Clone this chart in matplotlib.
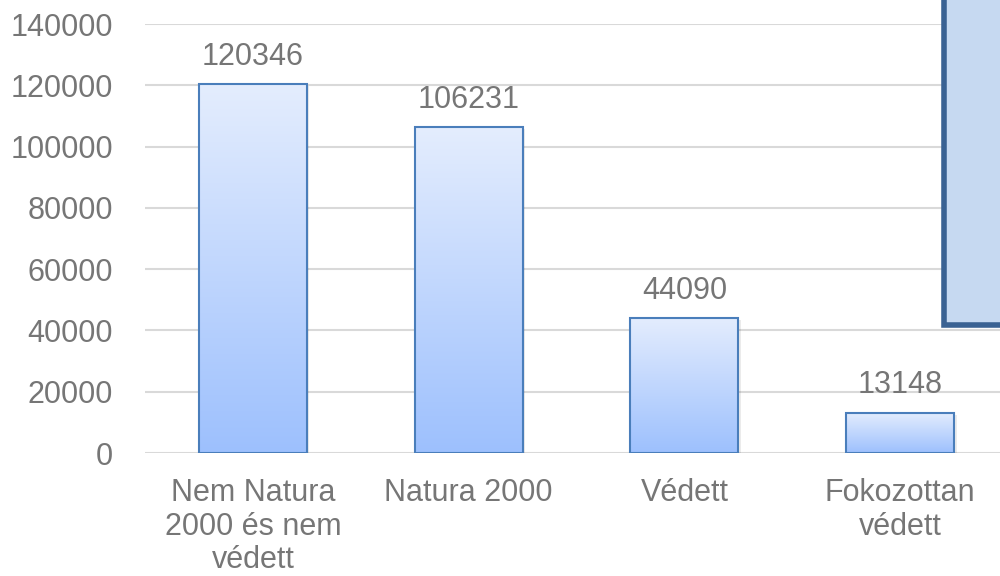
import numpy as np
import matplotlib.pyplot as plt
from matplotlib.colors import LinearSegmentedColormap
from matplotlib.patches import Rectangle

categories = ["Nem Natura\n2000 és nem\nvédett", "Natura 2000", "Védett", "Fokozottan\nvédett"]
values = [120346, 106231, 44090, 13148]
yticks = [0, 20000, 40000, 60000, 80000, 100000, 120000, 140000]

plt.rcParams['font.family'] = ['Liberation Sans', 'DejaVu Sans']
grey = '#767676'
fs = 22

fig = plt.figure(figsize=(10, 5.76), dpi=100)
ax = fig.add_axes([0.145, 0.2135, 0.863, 0.7448])

x = np.arange(len(values))
bars = ax.bar(x, values, width=0.5, facecolor='none', edgecolor='#4a7ebb', linewidth=1.5, zorder=3)

cmap = LinearSegmentedColormap.from_list('g', ['#9dc0fe', '#e4edfd'])
grad = np.linspace(0, 1, 256).reshape(-1, 1)
for b in bars:
    x0, w, h = b.get_x(), b.get_width(), b.get_height()
    # soft shadow
    ax.add_patch(Rectangle((x0 + 0.012, -600), w, h, facecolor='#000000', alpha=0.08, zorder=1, linewidth=0))
    im = ax.imshow(grad, cmap=cmap, origin='lower', aspect='auto', extent=(x0, x0 + w, 0, h), zorder=2)
    im.set_clip_path(b)

for xi, v in zip(x, values):
    ax.text(xi, v + 4000, str(v), ha='center', va='bottom', fontsize=fs, color=grey)

ax.set_xlim(-0.5, 3.5)
ax.set_ylim(0, 140000)
ax.set_yticks(yticks)
ax.set_yticklabels([str(t) for t in yticks], fontsize=fs, color=grey)
ax.set_xticks(x)
ax.set_xticklabels(categories, fontsize=fs, color=grey, linespacing=1.16)
ax.tick_params(axis='x', length=0, pad=18)
ax.tick_params(axis='y', length=0, pad=23)
ax.grid(axis='y', color='#d9d9d9', linewidth=1.5, zorder=0)
ax.set_axisbelow(True)
for s in ax.spines.values():
    s.set_visible(False)

# partially visible legend box at the right edge
fig.patches.append(Rectangle((0.944, 0.435), 0.1, 0.6, transform=fig.transFigure,
                             facecolor='#c6d9f1', edgecolor='#3a6293', linewidth=4, zorder=5))

fig.savefig('out.png', dpi=100)
